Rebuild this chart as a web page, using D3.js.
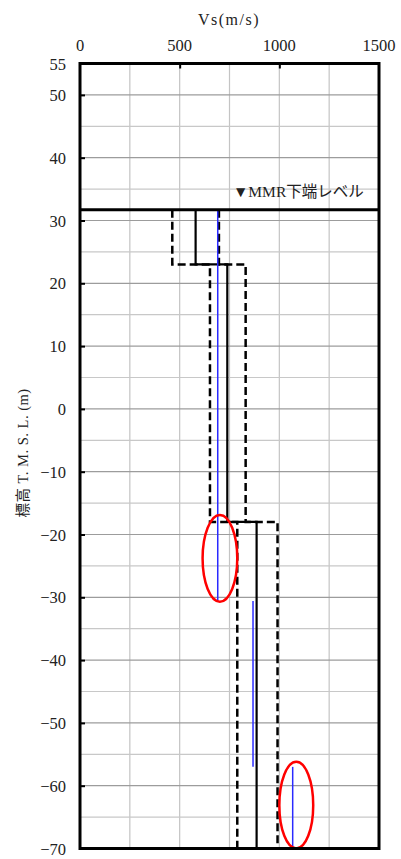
<!DOCTYPE html>
<html><head><meta charset="utf-8">
<script src="https://cdn.jsdelivr.net/npm/d3@7"></script>
<style>
html,body{margin:0;padding:0;background:#fff;}
text{font-family:"Liberation Serif","DejaVu Serif","Noto Sans CJK JP",serif;fill:#222;}
</style></head>
<body><svg id="c" width="401" height="859"></svg>
<script>
// ---- data ----
const xTicks = [0, 500, 1000, 1500];
const yTicks = [55, 50, 40, 30, 20, 10, 0, -10, -20, -30, -40, -50, -60, -70];
const mmrLevel = 31.7;
const mmrLabel = "▼MMR下端レベル";
const layerTop = [31.7, 23, -18];
const layerBottom = [23, -18, -70];
const vsMean = [580, 739, 886];
const vsLower = [463, 652, 789];
const vsUpper = [697, 831, 991];
const measTop = [31.7, -30.6, -57];
const measBottom = [-30.6, -57, -70];
const measVs = [691, 868, 1067];
const ellipseVs = [702, 1085];
const ellipseElev = [-23.8, -63.1];
const ellipseRVs = [87, 85];
const ellipseRElev = [6.9, 6.9];

// ---- layout ----
const L = 80, R = 379, T = 63.5, B = 848.5;
const svg = d3.select("#c");
const x = d3.scaleLinear().domain([0, 1500]).range([L, R]);
const y = d3.scaleLinear().domain([55, -70]).range([T, B]);

// grid
const g = svg.append("g");
d3.range(250, 1500, 250).forEach(v => {
  g.append("line").attr("x1", x(v)).attr("x2", x(v)).attr("y1", T).attr("y2", B)
   .attr("stroke", "#c4c4c4").attr("stroke-width", 1.2);
});
d3.range(-65, 55, 5).forEach(v => {
  g.append("line").attr("x1", L).attr("x2", R).attr("y1", y(v)).attr("y2", y(v))
   .attr("stroke", v % 10 === 0 ? "#9c9c9c" : "#c8c8c8").attr("stroke-width", 1.2);
});

// axes (ticks inward)
const axL = d3.axisRight(y).tickValues(yTicks.slice(1, -1)).tickSize(5).tickFormat("");
svg.append("g").attr("transform", `translate(${L},0)`).call(axL)
  .call(s => s.select(".domain").remove())
  .selectAll("line").attr("stroke", "#000").attr("stroke-width", 2);
const axT = d3.axisBottom(x).tickValues(xTicks.slice(1, -1)).tickSize(5).tickFormat("");
svg.append("g").attr("transform", `translate(0,${T})`).call(axT)
  .call(s => s.select(".domain").remove())
  .selectAll("line").attr("stroke", "#000").attr("stroke-width", 2);

// tick labels
const fmt = v => (v < 0 ? "\u2212" + Math.abs(v) : String(v));
svg.append("g").selectAll("text").data(yTicks).join("text")
  .attr("x", 66).attr("y", d => y(d) + 6).attr("text-anchor", "end")
  .attr("font-size", 16.5).text(fmt);
svg.append("g").selectAll("text").data(xTicks).join("text")
  .attr("x", d => x(d)).attr("y", 51).attr("text-anchor", "middle")
  .attr("font-size", 16.5).text(d => String(d));

// axis titles
svg.append("text").attr("x", 229).attr("y", 25).attr("text-anchor", "middle")
  .attr("font-size", 16).attr("letter-spacing", 1.5).text("Vs(m/s)");
svg.append("text").attr("transform", "translate(28,453) rotate(-90)")
  .attr("text-anchor", "middle").attr("font-size", 14.5).attr("letter-spacing", 0.5)
  .text("標高 T. M. S. L. (m)");

// profiles
const pts = (vals) => vals.flatMap((v, i) => [[v, layerTop[i]], [v, layerBottom[i]]]);
const line = d3.line().x(d => x(d[0])).y(d => y(d[1]));
[vsLower, vsUpper].forEach(arr => {
  svg.append("path").attr("d", line(pts(arr))).attr("fill", "none")
    .attr("stroke", "#000").attr("stroke-width", 2.5).attr("stroke-dasharray", "8,4");
});
svg.append("path").attr("d", line(pts(vsMean))).attr("fill", "none")
  .attr("stroke", "#000").attr("stroke-width", 2.2);

// measured (blue)
svg.append("g").selectAll("line").data(measVs).join("line")
  .attr("x1", d => x(d)).attr("x2", d => x(d))
  .attr("y1", (d, i) => y(measTop[i])).attr("y2", (d, i) => y(measBottom[i]))
  .attr("stroke", "#2a2aff").attr("stroke-width", 1.5);

// ellipses
svg.append("g").selectAll("ellipse").data(ellipseVs).join("ellipse")
  .attr("cx", d => x(d)).attr("cy", (d, i) => y(ellipseElev[i]))
  .attr("rx", (d, i) => x(ellipseRVs[i]) - x(0))
  .attr("ry", (d, i) => y(-ellipseRElev[i]) - y(0))
  .attr("fill", "none").attr("stroke", "#ff0000").attr("stroke-width", 2.5);

// MMR level
svg.append("line").attr("x1", L).attr("x2", R).attr("y1", y(mmrLevel)).attr("y2", y(mmrLevel))
  .attr("stroke", "#000").attr("stroke-width", 3);
svg.append("text").attr("x", 233).attr("y", 197).attr("font-size", 15.5).text(mmrLabel);

// frame
svg.append("rect").attr("x", L).attr("y", T).attr("width", R - L).attr("height", B - T)
  .attr("fill", "none").attr("stroke", "#000").attr("stroke-width", 3);
</script></body></html>
